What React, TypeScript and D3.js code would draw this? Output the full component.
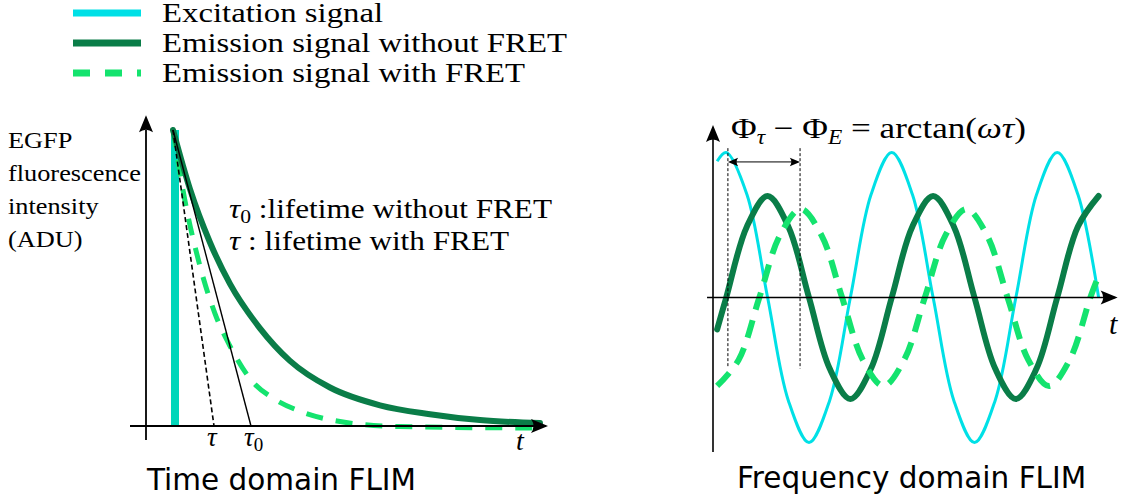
import React from "react";
import * as d3 from "d3";

const W = 1123;
const H = 500;

// legend entries
const legendLabels = ["Excitation signal", "Emission signal without FRET", "Emission signal with FRET"];
const legendKeys = ["excitation", "noFret", "fret"];

// ---- time domain (left) ----
// t in arbitrary units, intensity normalised to the peak
const pulseTime = 2.9;
const decayNoFret: [number, number][] = [
  [2.7, 1.0], [4.4, 0.8], [6.4, 0.62], [8.4, 0.48], [11.4, 0.33], [14.4, 0.22],
  [18.4, 0.13], [23.4, 0.07], [28.4, 0.04], [33.4, 0.02], [39.4, 0.01],
];
const decayFret: [number, number][] = [
  [2.7, 1.0], [3.9, 0.76], [5.4, 0.54], [6.9, 0.38], [8.4, 0.27], [10.4, 0.16],
  [12.9, 0.09], [15.4, 0.05], [19.4, 0.015], [25.4, -0.002], [39.2, -0.007],
];
const tangentNoFret: [number, number][] = [[2.7, 1.0], [10.5, 0]];
const tangentFret: [number, number][] = [[2.7, 1.0], [6.8, 0]];
const lifetimeTicks = [
  { t: 6.8, sym: "τ", sub: "" },
  { t: 10.5, sym: "τ", sub: "0" },
];
const yLabelLines = ["EGFP", "fluorescence", "intensity", "(ADU)"];

// ---- frequency domain (right) ----
// phase in periods, amplitude relative to excitation
const excitationWave: [number, number][] = [
  [0.025, 0.94], [0.08, 1], [0.205, 0.71], [0.33, 0], [0.455, -0.71], [0.58, -1], [0.705, -0.71],
  [0.83, 0], [0.955, 0.71], [1.08, 1], [1.205, 0.71], [1.33, 0], [1.455, -0.71], [1.58, -1],
  [1.705, -0.71], [1.83, 0], [1.955, 0.71], [2.08, 1], [2.205, 0.71], [2.33, 0],
];
const emissionNoFret: [number, number][] = [
  [0.025, -0.22], [0.08, 0], [0.205, 0.49], [0.33, 0.7], [0.455, 0.49], [0.58, 0], [0.705, -0.49],
  [0.83, -0.7], [0.955, -0.49], [1.08, 0], [1.205, 0.49], [1.33, 0.7], [1.455, 0.49], [1.58, 0],
  [1.705, -0.49], [1.83, -0.7], [1.955, -0.49], [2.08, 0], [2.205, 0.49], [2.33, 0.7],
];
const emissionFret: [number, number][] = [
  [0.025, -0.61], [0.155, -0.43], [0.28, 0], [0.405, 0.43], [0.53, 0.61], [0.655, 0.43], [0.78, 0],
  [0.905, -0.43], [1.03, -0.61], [1.155, -0.43], [1.28, 0], [1.405, 0.43], [1.53, 0.61], [1.655, 0.43],
  [1.78, 0], [1.905, -0.43], [2.03, -0.61], [2.155, -0.43], [2.28, 0], [2.33, 0.15],
];
const phaseMarkers = [0.09, 0.526];
const phaseMarkerBottoms = [-0.48, -0.49];

const colors: Record<string, string> = {
  excitation: "#00e0e6",
  pulse: "#00d6ba",
  noFret: "#0a7d48",
  fret: "#14e36e",
};

const serif = "'Liberation Serif', serif";
const sans = "'DejaVu Sans', sans-serif";
const SX = 1.17; // computer-modern is wider than times, stretch a bit

// latex-like arrow head, tip at (x, y), pointing along angle (deg)
function Arrow({ x, y, angle, size = 1 }: { x: number; y: number; angle: number; size?: number }) {
  const L = 17 * size, hw = 7 * size, back = 12 * size;
  return (
    <path
      d={`M0,0 L${-L},${-hw} Q${-back},0 ${-L},${hw} Z`}
      transform={`translate(${x},${y}) rotate(${angle})`}
      fill="black"
    />
  );
}

function SerifText({ x, y, size, children, italic = false }: any) {
  return (
    <text transform={`translate(${x},${y}) scale(${SX},1)`} fontFamily={serif} fontSize={size}
      fontStyle={italic ? "italic" : "normal"}>
      {children}
    </text>
  );
}

function Legend() {
  return (
    <g>
      {legendKeys.map((k, i) => {
        const y = 13 + i * 30;
        return (
          <g key={k}>
            <line
              x1={73} x2={141} y1={y} y2={y}
              stroke={colors[k]} strokeWidth={7}
              strokeDasharray={k === "fret" ? "17 15" : undefined}
            />
            <SerifText x={162} y={y + 9} size={28}>{legendLabels[i]}</SerifText>
          </g>
        );
      })}
    </g>
  );
}

function TimeDomain() {
  const x = d3.scaleLinear().domain([0, 40]).range([146, 546]);
  const y = d3.scaleLinear().domain([0, 1]).range([426, 130]);
  const line = d3.line<[number, number]>().x(d => x(d[0])).y(d => y(d[1])).curve(d3.curveMonotoneX);
  const straight = d3.line<[number, number]>().x(d => x(d[0])).y(d => y(d[1]));

  return (
    <g>
      <line x1={x(pulseTime)} x2={x(pulseTime)} y1={y(0)} y2={y(1)} stroke={colors.pulse} strokeWidth={8} />
      <path d={line(decayFret)!} fill="none" stroke={colors.fret} strokeWidth={5} strokeDasharray="17 13" />
      <path d={line(decayNoFret)!} fill="none" stroke={colors.noFret} strokeWidth={6} strokeLinecap="round" />
      <path d={straight(tangentFret)!} fill="none" stroke="black" strokeWidth={1.6} strokeDasharray="5 3" />
      <path d={straight(tangentNoFret)!} fill="none" stroke="black" strokeWidth={1.4} />

      {/* axes */}
      <line x1={x(-1.6)} x2={x(40)} y1={y(0)} y2={y(0)} stroke="black" strokeWidth={1.8} />
      <Arrow x={x(40.2)} y={y(0)} angle={0} />
      <line x1={x(0)} x2={x(0)} y1={y(-0.047)} y2={y(1.0)} stroke="black" strokeWidth={1.8} />
      <Arrow x={x(0)} y={y(1.05)} angle={-90} />

      {lifetimeTicks.map((d, i) => (
        <text key={i} x={x(d.t) - 7} y={446} fontFamily={serif} fontSize={27} fontStyle="italic">
          {d.sym}
          {d.sub && <tspan fontStyle="normal" fontSize={19} dy={5}>{d.sub}</tspan>}
        </text>
      ))}
      <text x={516} y={450} fontFamily={serif} fontSize={28} fontStyle="italic">t</text>

      {yLabelLines.map((s, i) => (
        <SerifText key={s} x={8} y={148 + i * 33} size={22.5}>{s}</SerifText>
      ))}

      <SerifText x={229} y={218} size={26.7}>
        <tspan fontStyle="italic">τ</tspan>
        <tspan fontSize={18.5} dy={5}>0</tspan>
        <tspan dy={-5}> :lifetime without FRET</tspan>
      </SerifText>
      <SerifText x={229} y={250} size={26.7}>
        <tspan fontStyle="italic">τ</tspan>
        <tspan> : lifetime with FRET</tspan>
      </SerifText>

      <text x={147} y={490} fontFamily={sans} fontSize={29.5}>Time domain FLIM</text>
    </g>
  );
}

function FrequencyDomain() {
  const x = d3.scaleLinear().domain([0, 2.4]).range([713, 713 + 2.4 * 165.5]);
  const y = d3.scaleLinear().domain([-1, 1]).range([442.5, 152.5]);
  const wave = d3.line<[number, number]>().x(d => x(d[0])).y(d => y(d[1])).curve(d3.curveCatmullRom);

  return (
    <g>
      <path d={wave(excitationWave)!} fill="none" stroke={colors.excitation} strokeWidth={3} />
      <path d={wave(emissionNoFret)!} fill="none" stroke={colors.noFret} strokeWidth={6} strokeLinecap="round" />
      <path d={wave(emissionFret)!} fill="none" stroke={colors.fret} strokeWidth={6} strokeDasharray="18 11" />

      {/* axes */}
      <line x1={x(-0.036)} x2={x(2.43)} y1={y(0)} y2={y(0)} stroke="black" strokeWidth={1.6} />
      <Arrow x={x(2.445)} y={y(0)} angle={0} />
      <line x1={x(0)} x2={x(0)} y1={y(-1.066)} y2={y(1.15)} stroke="black" strokeWidth={1.6} />
      <Arrow x={x(0)} y={y(1.19)} angle={-90} />
      <text x={1109} y={334} fontFamily={serif} fontSize={30} fontStyle="italic">t</text>

      {/* phase shift marker */}
      {phaseMarkers.map((p, i) => (
        <line key={i} x1={x(p)} x2={x(p)} y1={y(1.03)} y2={y(phaseMarkerBottoms[i])}
          stroke="black" strokeWidth={1} strokeDasharray="3 2" />
      ))}
      <line x1={x(phaseMarkers[0]) + 4} x2={x(phaseMarkers[1]) - 4} y1={y(0.935)} y2={y(0.935)} stroke="black" strokeWidth={1} />
      <Arrow x={x(phaseMarkers[0])} y={y(0.935)} angle={180} size={0.6} />
      <Arrow x={x(phaseMarkers[1])} y={y(0.935)} angle={0} size={0.6} />

      <SerifText x={731} y={138} size={30}>
        <tspan>Φ</tspan>
        <tspan fontStyle="italic" fontSize={20} dy={6}>τ</tspan>
        <tspan dy={-6}> − Φ</tspan>
        <tspan fontStyle="italic" fontSize={20} dy={6}>E</tspan>
        <tspan dy={-6}> = arctan(</tspan>
        <tspan fontStyle="italic">ωτ</tspan>
        <tspan>)</tspan>
      </SerifText>

      <text x={737} y={488} fontFamily={sans} fontSize={29.5}>Frequency domain FLIM</text>
    </g>
  );
}

export default function App() {
  return (
    <svg width={W} height={H} style={{ display: "block", position: "absolute", left: 0, top: 0, background: "white" }}>
      <Legend />
      <TimeDomain />
      <FrequencyDomain />
    </svg>
  );
}
